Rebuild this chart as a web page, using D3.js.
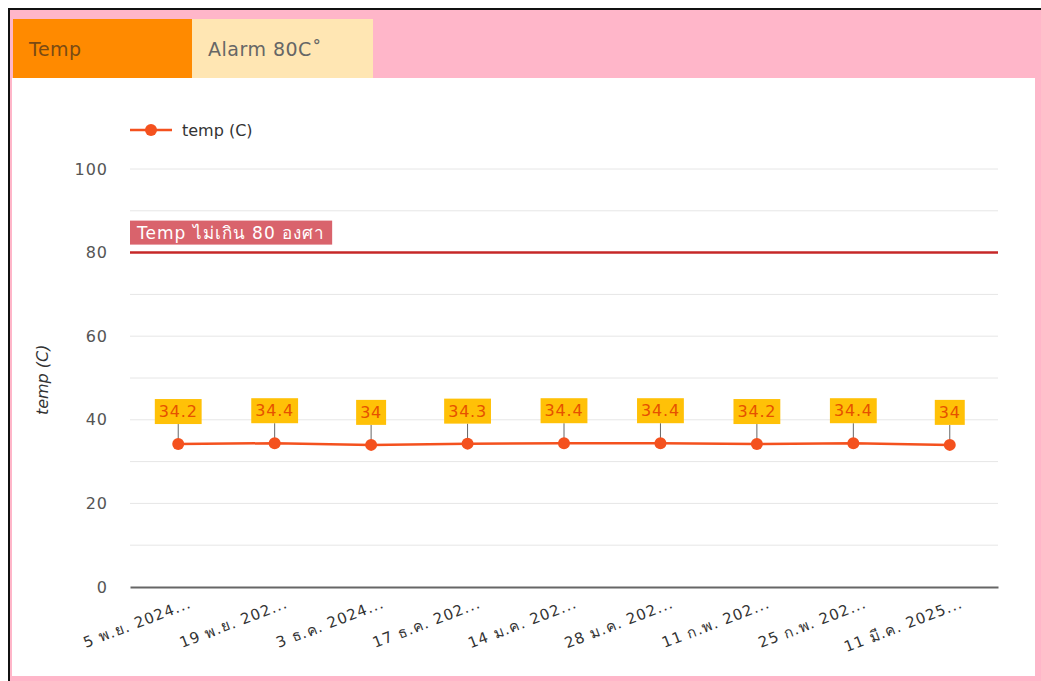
<!DOCTYPE html>
<html>
<head>
<meta charset="utf-8">
<script src="https://cdn.jsdelivr.net/npm/d3@7"></script>
<style>
  body { margin: 0; background: #fff; }
  svg { display: block; font-family: "DejaVu Sans", "Noto Sans", sans-serif; }
</style>
</head>
<body>
<svg id="chart" width="1041" height="681"></svg>
<script>
const dates = ["5 พ.ย. 2024...", "19 พ.ย. 202...", "3 ธ.ค. 2024...", "17 ธ.ค. 202...", "14 ม.ค. 202...",
               "28 ม.ค. 202...", "11 ก.พ. 202...", "25 ก.พ. 202...", "11 มี.ค. 2025..."];
const temps = [34.2, 34.4, 34, 34.3, 34.4, 34.4, 34.2, 34.4, 34];
const yTicks = [0, 20, 40, 60, 80, 100];
const gridTicks = [0, 10, 20, 30, 40, 50, 60, 70, 80, 90, 100];
const alarmValue = 80;
const alarmLabel = "Temp ไม่เกิน 80 องศา";
const tabs = ["Temp", "Alarm 80C˚"];
const seriesName = "temp (C)";

const svg = d3.select("#chart");

// page frame
svg.append("rect").attr("x", 9).attr("y", 9).attr("width", 1040).attr("height", 680)
    .attr("fill", "#ffb6c9").attr("stroke", "#111").attr("stroke-width", 2);
svg.append("rect").attr("x", 12).attr("y", 78).attr("width", 1023).attr("height", 598).attr("fill", "#fff");

// tabs
const tabBox = [{x: 13, w: 179, fill: "#ff8a00", color: "#7a4a14"}, {x: 192, w: 181, fill: "#ffe6b3", color: "#666"}];
tabs.forEach((t, i) => {
  svg.append("rect").attr("x", tabBox[i].x).attr("y", 19).attr("width", tabBox[i].w).attr("height", 59)
      .attr("fill", tabBox[i].fill);
  svg.append("text").attr("x", tabBox[i].x + 16).attr("y", 56)
      .attr("fill", tabBox[i].color).style("font-size", "19px").style("letter-spacing", "0.5px").text(t);
});

const margin = {top: 169, left: 130, right: 43, bottom: 94};
const width = 1041 - margin.left - margin.right,
      height = 681 - margin.top - margin.bottom;
const g = svg.append("g").attr("transform", `translate(${margin.left},${margin.top})`);

const x = d3.scalePoint().domain(dates).range([0, width]).padding(0.5);
const y = d3.scaleLinear().domain([0, 100]).range([height, 0]);

// grid
g.selectAll(".grid").data(gridTicks.filter(d => d > 0)).enter().append("line")
    .attr("x1", 0).attr("x2", width)
    .attr("y1", d => y(d)).attr("y2", d => y(d))
    .attr("stroke", "#e6e6e6").attr("stroke-width", 1);

// y axis
const yAxis = g.append("g").call(d3.axisLeft(y).tickValues(yTicks).tickSize(0).tickPadding(22));
yAxis.select(".domain").remove();
yAxis.selectAll("text").attr("fill", "#555").style("font-size", "16px")
    .style("font-family", "'DejaVu Sans', sans-serif").style("letter-spacing", "1px");

g.append("text")
    .attr("transform", `translate(${-82},${y(40) - 40}) rotate(-90)`)
    .attr("text-anchor", "middle").attr("fill", "#333")
    .style("font-size", "16px").style("font-style", "italic")
    .text(seriesName);

// x axis
const xAxis = g.append("g").attr("transform", `translate(0,${height})`)
    .call(d3.axisBottom(x).tickSize(0).tickPadding(10));
xAxis.select(".domain").attr("stroke", "#666").attr("stroke-width", 2);
xAxis.selectAll("text")
    .attr("fill", "#333").style("font-size", "15px")
    .style("font-family", "'DejaVu Sans', sans-serif")
    .style("letter-spacing", "1px")
    .attr("text-anchor", "end")
    .attr("dy", "0.35em")
    .attr("transform", "translate(8,6) rotate(-21)");

// alarm line
g.append("line").attr("x1", 0).attr("x2", width)
    .attr("y1", y(alarmValue)).attr("y2", y(alarmValue))
    .attr("stroke", "#c62828").attr("stroke-width", 2.5);
const al = g.append("g").attr("transform", `translate(0,${y(alarmValue) - 32})`);
const alText = al.append("text").attr("x", 7).attr("y", 18).attr("fill", "#fff")
    .style("font-size", "17px").style("letter-spacing", "1px").text(alarmLabel);
const alW = alText.node().getComputedTextLength();
al.insert("rect", "text").attr("x", 0).attr("y", 0).attr("width", alW + 14).attr("height", 24)
    .attr("fill", "#d9636c");

// series line
const line = d3.line().x((d, i) => x(dates[i])).y(d => y(d));
g.append("path").datum(temps).attr("d", line)
    .attr("fill", "none").attr("stroke", "#f4511e").attr("stroke-width", 2.5);

// data labels
temps.forEach((v, i) => {
  const cx = x(dates[i]), cy = y(v);
  g.append("line").attr("x1", cx).attr("x2", cx).attr("y1", cy - 20).attr("y2", cy)
      .attr("stroke", "#666").attr("stroke-width", 1);
  const lg = g.append("g").attr("transform", `translate(${cx},${cy - 45})`);
  const tx = lg.append("text").attr("text-anchor", "middle").attr("y", 18)
      .attr("fill", "#e65100").style("font-size", "16px").style("letter-spacing", "0.8px").text(v);
  const w = tx.node().getComputedTextLength();
  lg.insert("rect", "text").attr("x", -w / 2 - 4).attr("y", 0).attr("width", w + 8).attr("height", 25)
      .attr("fill", "#ffc107");
});

g.selectAll(".dot").data(temps).enter().append("circle")
    .attr("cx", (d, i) => x(dates[i])).attr("cy", d => y(d)).attr("r", 6)
    .attr("fill", "#f4511e");

// legend
const leg = svg.append("g").attr("transform", "translate(130,130)");
leg.append("line").attr("x1", 0).attr("x2", 42).attr("stroke", "#f4511e").attr("stroke-width", 2.5);
leg.append("circle").attr("cx", 21).attr("r", 6).attr("fill", "#f4511e");
leg.append("text").attr("x", 52).attr("y", 6).attr("fill", "#333").style("font-size", "16px").text(seriesName);
</script>
</body>
</html>
